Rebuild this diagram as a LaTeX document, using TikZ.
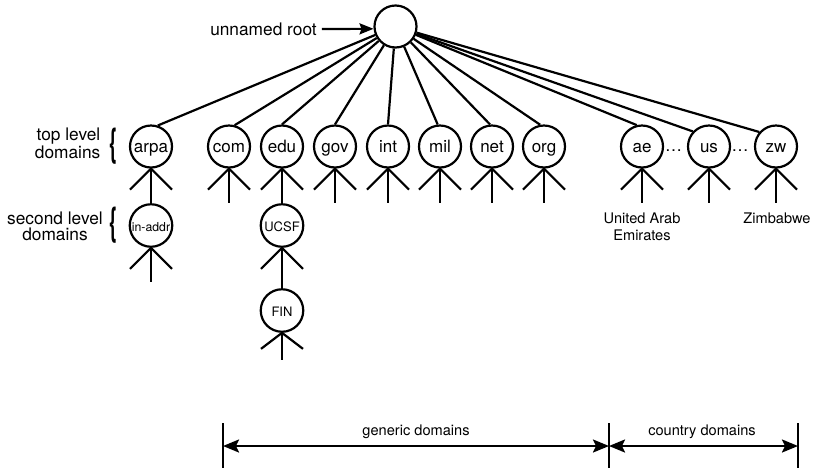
\documentclass[tikz,border=0pt]{standalone}
\usepackage{fontspec}
\setmainfont{TeX Gyre Heros}
\usetikzlibrary{arrows.meta}
\newcommand\domstick[3]{% node, diagonal drop, vertical drop
  \draw[edge] (#1.south) ++(-21,#2) -- (#1.south) -- ++(21,#2);
  \draw[edge] (#1.south) -- ++(0,#3);}
\begin{document}
\begin{tikzpicture}[x=1pt,y=-1pt,
  edge/.style={line width=2.2pt,line join=round},
  dom/.style={circle,draw,line width=2.2pt,minimum size=42pt,inner sep=0pt,
    font=\fontsize{17}{17}\selectfont,text height=11.5pt,text depth=0pt},
  subdom/.style={dom,minimum size=42.5pt,font=\fontsize{13}{13}\selectfont,text height=11pt},
  caption/.style={font=\fontsize{17.3}{18.3}\selectfont,inner sep=0pt},
  note/.style={font=\fontsize{14.6}{17}\selectfont,inner sep=0pt,align=center},
  brace/.style={font=\fontsize{30}{30}\bfseries\selectfont,inner sep=0pt},
  dim/.style={line width=2.2pt,{Stealth[length=16pt,width=13pt,inset=3pt]}-{Stealth[length=16pt,width=13pt,inset=3pt]}}
]
\useasboundingbox (0,0) rectangle (822,467);

% root and top level domains
\node[dom] (root) at (395.5,26.5) {};
\node[dom] (arpa) at (151,146.5) {arpa};
\node[dom] (com) at (229,146.5) {com};
\node[dom] (edu) at (282,146.5) {edu};
\node[dom] (gov) at (335,146.5) {gov};
\node[dom] (int) at (388,146.5) {int};
\node[dom] (mil) at (440,146.5) {mil};
\node[dom] (net) at (492,146.5) {net};
\node[dom] (org) at (544,146.5) {org};
\node[dom] (ae) at (642,146.5) {ae};
\node[dom] (us) at (709,146.5) {us};
\node[dom] (zw) at (776,146.5) {zw};

% second and third level domains
\node[subdom,font=\fontsize{12.3}{12.3}\selectfont] (inaddr) at (151,225.5) {in-addr};
\node[subdom] (ucsf) at (282,225.5) {UCSF};
\node[subdom,text height=12.5pt] (fin) at (282,310.5) {FIN};

% edges from the root
\foreach \n/\a in {arpa/72, com/75, edu/90, gov/90, int/90, mil/96, net/95,
                   org/100, ae/104, us/137, zw/139}
  \draw[edge] (root) -- (\n.\a);

% edges to lower levels
\draw[edge] (arpa.south) -- (inaddr.north);
\draw[edge] (edu.south) -- (ucsf.north);
\draw[edge] (ucsf.south) -- (fin.north);

% stubs standing for further subdomains
\foreach \n in {arpa, edu, ucsf}{
  \draw[edge] (\n.south) ++(-21,21) -- (\n.south) -- ++(21,21);}
\foreach \n in {com, gov, int, mil, net, org, ae, us, zw, inaddr}{
  \domstick{\n}{21}{34}}
\domstick{fin}{16}{27}

% ellipses between country domains
\node[font=\fontsize{17}{17}\selectfont,inner sep=0pt,anchor=base] (dotsA) at (673.5,151.5) {…};
\node[font=\fontsize{17}{17}\selectfont,inner sep=0pt,anchor=base] (dotsB) at (740,151.5) {…};

% country names
\node[note] (uae) at (642,226.5) {United Arab\\Emirates};
\node[note] (zim) at (777,218.5) {Zimbabwe};

% side captions
\node[caption] (rootlbl) at (263.5,29) {unnamed root};
\draw[line width=2.2pt,-{Stealth[length=14pt,width=11pt,inset=2pt]}] ([xshift=5pt]rootlbl.east) -- (root.186);

\node[caption,align=right,anchor=east] (toplbl) at (100.5,143.5) {top level\\domains};
\node[brace] (topbrace) at (113.7,146) {\scalebox{0.7}[1.3]{\{}};
\node[caption,align=center,font=\fontsize{17.3}{16}\selectfont] (seclbl) at (55,226.5) {second level\\domains};
\node[brace] (secbrace) at (113.5,225.5) {\scalebox{0.7}[1.3]{\{}};

% generic / country ranges
\coordinate (gA) at (223,423);
\coordinate (gB) at (609,423);
\coordinate (gC) at (798,423);
\foreach \c in {gA, gB, gC}{
  \draw[line width=2.2pt] (\c) -- ++(0,46);}
\draw[dim] ([yshift=-23pt]gA) -- ([yshift=-23pt]gB);
\draw[dim] ([yshift=-23pt]gB) -- ([yshift=-23pt]gC);
\node[note] (generic) at (416,432) {generic domains};
\node[note] (country) at (702,432) {country domains};
\end{tikzpicture}
\end{document}
